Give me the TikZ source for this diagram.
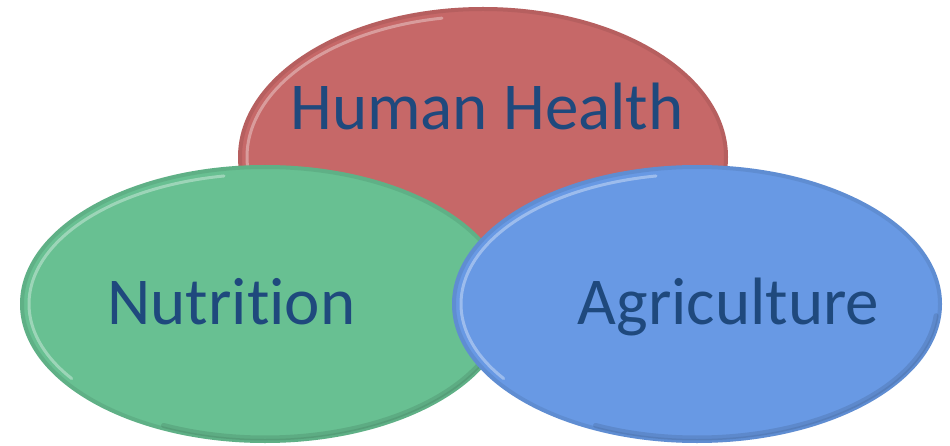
\documentclass[tikz,border=0pt]{standalone}
\usepackage{fontspec}
\setmainfont{Carlito}[RawFeature=-liga]
\usetikzlibrary{shapes.geometric}
\definecolor{redfill}{RGB}{198,104,104}
\definecolor{greenfill}{RGB}{104,192,146}
\definecolor{bluefill}{RGB}{104,153,228}
\definecolor{labeltext}{RGB}{31,73,125}
\newcommand{\blobbevel}[4]{%
  \begin{scope}
    \clip (#1,#2) ellipse [x radius=#3, y radius=#4];
    \draw[black, opacity=0.08, line width=8pt] (#1,#2) ellipse [x radius=#3, y radius=#4];
    \draw[white, opacity=0.35, line width=3pt, line cap=round]
      ({#1+(#3-9)*cos(100)},{#2+(#4-9)*sin(100)})
      arc[start angle=100, end angle=215, x radius=#3-9, y radius=#4-9];
    \draw[black, opacity=0.10, line width=5pt, line cap=round]
      ({#1+(#3-5)*cos(245)},{#2+(#4-5)*sin(245)})
      arc[start angle=245, end angle=355, x radius=#3-5, y radius=#4-5];
  \end{scope}}
\begin{document}
\begin{tikzpicture}[x=1pt,y=1pt,
  blob/.style={ellipse, inner sep=0pt, outer sep=0pt, minimum width=490pt},
  lbl/.style={font=\fontsize{67}{80}\selectfont, text=labeltext, inner sep=0pt, anchor=base}]
\useasboundingbox (0,0) rectangle (950,445);
\fill[white] (0,0) rectangle (950,445);
% Human Health
\node[blob, fill=redfill, minimum height=300pt] (health) at (483,288) {};
\blobbevel{483}{288}{245}{150}
% Nutrition
\node[blob, fill=greenfill, minimum height=278pt] (nutrition) at (265,141) {};
\blobbevel{265}{141}{245}{139}
% Agriculture
\node[blob, fill=bluefill, minimum height=278pt] (agriculture) at (697,141) {};
\blobbevel{697}{141}{245}{139}
% labels
\node[lbl] (healthtext) at (487,315) {Human Health};
\node[lbl] (nutritiontext) at (231.5,121) {Nutrition};
\node[lbl] (agriculturetext) at (728.5,121) {Agriculture};
\end{tikzpicture}
\end{document}
